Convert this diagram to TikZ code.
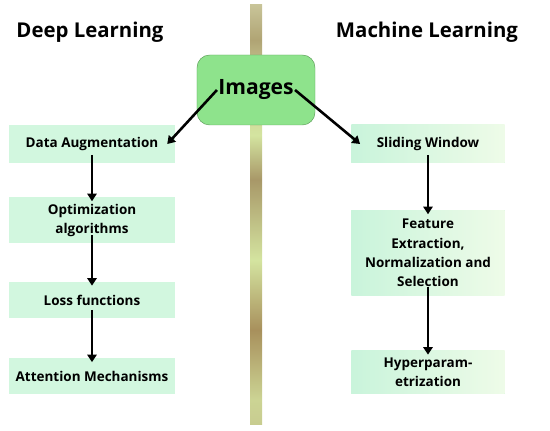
\documentclass[tikz,border=0pt]{standalone}
\usepackage{fontspec}
\setmainfont{Open Sans}
\usepackage{xcolor}
\usepackage{tikz}
\usetikzlibrary{shapes.geometric, arrows, arrows.meta, positioning, calc}

\definecolor{mint}{HTML}{D2F7DF}
\definecolor{mintleft}{HTML}{C9F4DB}
\definecolor{mintright}{HTML}{EEFBE8}
\definecolor{imgfill}{HTML}{8EE38C}
\definecolor{imgdraw}{HTML}{5E9E5A}
\pgfdeclareverticalshading{pole}{100bp}{%
  color(0bp)=(rgb,255:red,200;green,204;blue,144);
  color(25bp)=(rgb,255:red,200;green,204;blue,144);
  color(28bp)=(rgb,255:red,204;green,212;blue,148);
  color(36.3bp)=(rgb,255:red,168;green,144;blue,92);
  color(44.6bp)=(rgb,255:red,212;green,228;blue,160);
  color(54.2bp)=(rgb,255:red,168;green,152;blue,104);
  color(59.5bp)=(rgb,255:red,212;green,228;blue,160);
  color(68.4bp)=(rgb,255:red,192;green,188;blue,136);
  color(70.8bp)=(rgb,255:red,176;green,164;blue,116);
  color(75bp)=(rgb,255:red,200;green,196;blue,152);
  color(100bp)=(rgb,255:red,200;green,196;blue,152)}

\begin{document}
\begin{tikzpicture}[
        x=0.03cm, y=-0.03cm,
        node distance=1cm,
        box/.style={rectangle, fill=mint, minimum width=4.98cm, minimum height=1.14cm, align=center, font=\bfseries\fontsize{11.5}{16.5}\selectfont},
        mlbox/.style={box, left color=mintleft, right color=mintright, minimum width=4.6cm},
        title/.style={font=\bfseries\fontsize{17.4}{20}\selectfont},
        arrow/.style={->, line width=2.2pt, shorten <=-0.25cm, shorten >=-0.12cm},
        >={Triangle[length=6.5pt, width=8pt]}
    ]
    \useasboundingbox (0,0) rectangle (550,431);

    % divider
    \shade[shading=pole] (250,5) rectangle (262,425);

    \node (imgbox) [rectangle, rounded corners=0.38cm, draw=imgdraw, fill=imgfill, minimum width=3.54cm, minimum height=2.1cm] at (256,90) {};
    \node (images) [font=\bfseries\fontsize{18}{20}\selectfont, inner sep=1pt] at (imgbox.center) {Images};

    \node (deep) [title] at (90,32) {Deep Learning};
    \node (machine) [title] at (427,32) {Machine Learning};

    \node (augment) [box] at (92,144) {Data Augmentation};
    \node (optim) [box, minimum height=1.38cm, below=1.02cm of augment] {Optimization\\algorithms};
    \node (loss) [box, minimum height=1.08cm, below=1.14cm of optim] {Loss functions};
    \node (attention) [box, minimum height=1.08cm, below=1.2cm of loss] {Attention Mechanisms};

    \node (sliding) [mlbox, minimum height=1.14cm] at (428,144) {Sliding Window};
    \node (feature) [mlbox, minimum height=2.55cm, below=1.41cm of sliding] {Feature\\Extraction,\\Normalization and\\Selection};
    \node (hyper) [mlbox, minimum height=1.29cm, below=1.65cm of feature] {Hyperparam-\\etrization};

    \draw[arrow, shorten <=0pt, shorten >=0pt] (images.west) -- ([xshift=-0.24cm]augment.east);
    \draw[arrow, shorten <=0pt, shorten >=0pt] (images.east) -- ([xshift=0.27cm]sliding.west);
    \draw[arrow] (augment) -- (optim);
    \draw[arrow] (optim) -- (loss);
    \draw[arrow] (loss) -- (attention);
    \draw[arrow] (sliding) -- (feature);
    \draw[arrow] (feature) -- (hyper);

\end{tikzpicture}
\end{document}
